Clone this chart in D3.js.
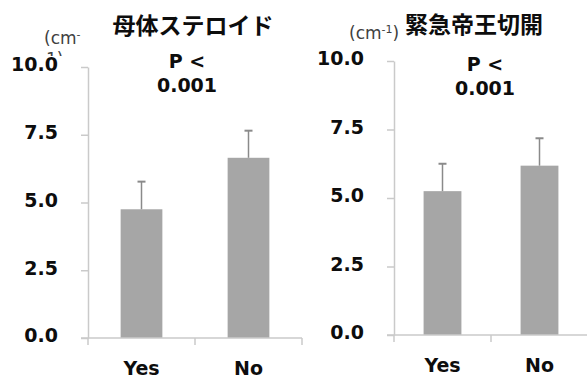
<!DOCTYPE html>
<html>
<head>
<meta charset="utf-8">
<script src="https://cdn.jsdelivr.net/npm/d3@7"></script>
<style>
  html, body { margin: 0; padding: 0; background: #fff; }
  svg { display: block; }
  text { font-family: "DejaVu Sans", Verdana, sans-serif; }
  .cjk { font-family: "Noto Sans CJK JP", "Noto Sans CJK SC", sans-serif; }
</style>
</head>
<body>
<svg id="chart" width="587" height="380"></svg>
<script>
// Categories shared by both panels
const categories = ["Yes", "No"];
const panelTitles = ["母体ステロイド", "緊急帝王切開"];

// Mean values (cm⁻¹) and error (upper SD) per category
const steroidMeans = [4.75, 6.65];
const steroidErrors = [1.02, 1.0];
const cesareanMeans = [5.25, 6.18];
const cesareanErrors = [1.0, 1.0];

const yTickValues = [0, 2.5, 5.0, 7.5, 10.0];
const yDomain = [0, 10];
const pValueLines = ["P <", "0.001"];

const svg = d3.select("#chart");

const BAR_COLOR = "#a6a6a6";
const AXIS_COLOR = "#cacaca";
const ERR_COLOR = "#8a8a8a";
const TEXT_COLOR = "#0d0d0d";
const UNIT_COLOR = "#404040";

// Panel frames (plot area) for the two bar charts
const panels = [
  { left: 88, right: 302, top: 67, bottom: 338, means: steroidMeans, errors: steroidErrors,
    title: panelTitles[0], titleX: 193, titleY: 24, pX: 187, pY: 61 },
  { left: 394, right: 588, top: 61, bottom: 335, means: cesareanMeans, errors: cesareanErrors,
    title: panelTitles[1], titleX: 474, titleY: 23, pX: 485, pY: 64 }
];

panels.forEach((p, idx) => {
  const g = svg.append("g");

  const x = d3.scaleBand()
    .domain(categories)
    .range([p.left, p.right])
    .paddingInner(0.61)
    .paddingOuter(0.305);

  const y = d3.scaleLinear().domain(yDomain).range([p.bottom, p.top]);

  // Bars
  g.selectAll("rect.bar")
    .data(categories)
    .join("rect")
    .attr("class", "bar")
    .attr("x", d => x(d))
    .attr("width", x.bandwidth())
    .attr("y", (d, i) => y(p.means[i]))
    .attr("height", (d, i) => y(0) - y(p.means[i]))
    .attr("fill", BAR_COLOR);

  // Error bars (upper only)
  const eg = g.selectAll("g.err")
    .data(categories)
    .join("g")
    .attr("class", "err");
  eg.append("line")
    .attr("x1", d => x(d) + x.bandwidth() / 2)
    .attr("x2", d => x(d) + x.bandwidth() / 2)
    .attr("y1", (d, i) => y(p.means[i]))
    .attr("y2", (d, i) => y(p.means[i] + p.errors[i]))
    .attr("stroke", ERR_COLOR)
    .attr("stroke-width", 1.5);
  eg.append("line")
    .attr("x1", d => x(d) + x.bandwidth() / 2 - 4)
    .attr("x2", d => x(d) + x.bandwidth() / 2 + 4)
    .attr("y1", (d, i) => y(p.means[i] + p.errors[i]))
    .attr("y2", (d, i) => y(p.means[i] + p.errors[i]))
    .attr("stroke", ERR_COLOR)
    .attr("stroke-width", 2);

  // Category baseline with boundary ticks
  g.append("line")
    .attr("x1", p.left - 7).attr("x2", p.right)
    .attr("y1", y(0)).attr("y2", y(0))
    .attr("stroke", AXIS_COLOR).attr("stroke-width", 1.5);
  const bounds = d3.range(categories.length + 1).map(i => p.left + i * x.step());
  g.selectAll("line.xtick")
    .data(bounds)
    .join("line")
    .attr("class", "xtick")
    .attr("x1", d => d).attr("x2", d => d)
    .attr("y1", y(0)).attr("y2", y(0) + 7)
    .attr("stroke", AXIS_COLOR).attr("stroke-width", 1.5);

  // Category labels
  g.selectAll("text.xlab")
    .data(categories)
    .join("text")
    .attr("class", "xlab")
    .attr("x", d => x(d) + x.bandwidth() / 2)
    .attr("y", y(0) + 37)
    .attr("text-anchor", "middle")
    .attr("font-size", 19)
    .attr("font-weight", "bold")
    .attr("fill", TEXT_COLOR)
    .text(d => d);

  // Unit label
  const unit = g.append("text")
    .attr("font-size", 17)
    .attr("fill", UNIT_COLOR);
  if (idx === 0) {
    // narrow box: the unit wraps onto a second line that is cut off above the axis labels
    svg.append("clipPath").attr("id", "unitClip")
      .append("rect").attr("x", 30).attr("y", 20).attr("width", 60).attr("height", 36);
    unit.attr("clip-path", "url(#unitClip)");
    unit.append("tspan").attr("x", 44).attr("y", 44).text("(cm");
    unit.append("tspan").attr("font-size", 11).attr("dy", -6).text("-");
    unit.append("tspan").attr("x", 46).attr("y", 65).text("1)");
  } else {
    unit.attr("x", 349).attr("y", 39);
    unit.append("tspan").text("(cm");
    unit.append("tspan").attr("font-size", 11).attr("dy", -6).text("-1");
    unit.append("tspan").attr("dy", 6).text(")");
  }

  // Value axis
  const yAxis = d3.axisLeft(y)
    .tickValues(yTickValues)
    .tickFormat(d3.format(".1f"))
    .tickSize(7)
    .tickSizeOuter(0)
    .tickPadding(23);
  const ag = g.append("g")
    .attr("transform", `translate(${p.left},0)`)
    .call(yAxis);
  ag.select(".domain").attr("stroke", AXIS_COLOR).attr("stroke-width", 1.5);
  ag.selectAll(".tick line").attr("stroke", AXIS_COLOR).attr("stroke-width", 1.5);
  ag.selectAll(".tick text")
    .attr("font-size", 19)
    .attr("font-weight", "bold")
    .attr("font-family", "DejaVu Sans, Verdana, sans-serif")
    .attr("fill", TEXT_COLOR)
    .attr("dy", "0.2em");

  // Panel title
  g.append("text")
    .attr("class", "cjk")
    .attr("x", p.titleX)
    .attr("y", p.titleY)
    .attr("text-anchor", "middle")
    .attr("dominant-baseline", "central")
    .attr("font-size", 23)
    .attr("font-weight", "bold")
    .attr("fill", TEXT_COLOR)
    .text(p.title);

  // Significance note
  g.selectAll("text.pval")
    .data(pValueLines)
    .join("text")
    .attr("class", "pval")
    .attr("x", p.pX)
    .attr("y", (d, i) => p.pY + i * 24)
    .attr("text-anchor", "middle")
    .attr("dominant-baseline", "central")
    .attr("font-size", 19)
    .attr("font-weight", "bold")
    .attr("fill", TEXT_COLOR)
    .text(d => d);
});
</script>
</body>
</html>
